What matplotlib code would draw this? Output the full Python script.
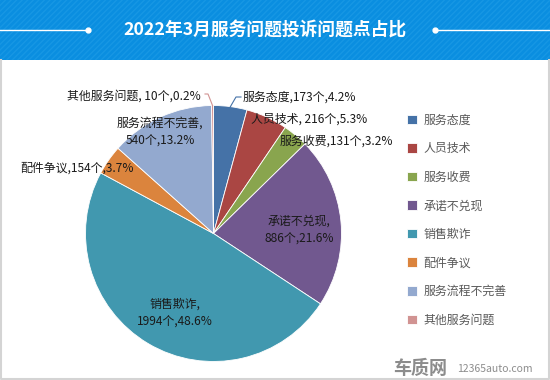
import numpy as np
import matplotlib.pyplot as plt
from matplotlib.patches import Rectangle

plt.rcParams['font.family'] = ['Noto Sans CJK SC', 'DejaVu Sans']

# datos del grafico
categorias = ['服务态度', '人员技术', '服务收费', '承诺不兑现', '销售欺诈',
              '配件争议', '服务流程不完善', '其他服务问题']
cantidades = [173, 216, 131, 886, 1994, 154, 540, 10]
porcentajes = ['4.2%', '5.3%', '3.2%', '21.6%', '48.6%', '3.7%', '13.2%', '0.2%']
colores = ['#4572A7', '#AA4643', '#89A54E', '#71588F', '#4198AF',
           '#DB843D', '#93A9CF', '#D19392']
titulo = '2022年3月服务问题投诉问题点占比'

W, H = 550, 380
fig = plt.figure(figsize=(W / 100, H / 100), dpi=100)
ax = fig.add_axes([0, 0, 1, 1])

cx, cy, r = 213.5, H - 233.5, 128  # centro y radio en pixeles
cunas, _ = ax.pie(cantidades, colors=colores, startangle=90, counterclock=False,
                  center=(cx, cy), radius=r,
                  wedgeprops=dict(edgecolor='white', linewidth=0.6))
ax.set_xlim(0, W)
ax.set_ylim(0, H)
ax.set_aspect('auto')
ax.axis('off')

# franja azul del titulo
ax.add_patch(Rectangle((0, H - 60), W, 60, facecolor='#0a8ee0',
                       edgecolor='#1797e4', hatch='//////', linewidth=0, zorder=5))
ax.text(265, H - 30, titulo, color='white', fontsize=12.8, fontweight='bold',
        ha='center', va='center', zorder=7)
ax.plot([0, 88], [H - 30, H - 30], color='white', lw=1, zorder=6)
ax.plot([435, W], [H - 30, H - 30], color='white', lw=1, zorder=6)
ax.plot([88, 435], [H - 30, H - 30], 'o', color='white', ms=3.5, zorder=6)

# borde gris
ax.plot([1, 1, W - 1, W - 1], [H - 60, 1, 1, H - 60], color='#d4d4d4', lw=1.5, zorder=6)

# etiquetas (posicion en pixeles, alineacion)
pos = [(243, 97, 'left'), (251, 119, 'left'), (280, 141, 'left'), (299, 230, 'center'),
       (175, 313, 'center'), (20, 168, 'left'), (160, 132, 'center'), (67, 96, 'left')]
sep = [',', ', ', ',', ',\n', ',\n', ',', ',\n', ', ']
for i, (x, y, ha) in enumerate(pos):
    txt = f'{categorias[i]}{sep[i]}{cantidades[i]}个,{porcentajes[i]}'
    ax.text(x, H - y, txt, fontsize=8.6, ha=ha, va='center', color='#1a1a1a',
            linespacing=1.5, zorder=4)

# lineas guia
def punto_borde(k):
    w = cunas[k]
    ang = np.deg2rad((w.theta1 + w.theta2) / 2)
    return cx + r * np.cos(ang), cy + r * np.sin(ang)

x0, y0 = punto_borde(0)
ax.plot([x0, 236, 241], [y0, H - 97, H - 97], color=colores[0], lw=0.8, zorder=3)
x7, y7 = punto_borde(7)
ax.plot([x7, 208, 205], [y7, H - 94, H - 94], color=colores[7], lw=0.8, zorder=3)

# leyenda
ax.legend(cunas, categorias, loc='upper left', bbox_to_anchor=(396, H - 103),
          bbox_transform=ax.transData, frameon=False, fontsize=8.6,
          labelspacing=1.3, handlelength=0.85, handleheight=0.85,
          handletextpad=0.55, labelcolor='#595959')

# marca de agua
ax.text(393, 12, '车质网', fontsize=13, fontweight='bold', color='#8c8c8c',
        ha='left', va='center')
ax.text(457, 11, '12365auto.com', fontsize=7.5, color='#8c8c8c', ha='left', va='center')

fig.savefig('out.png', dpi=100)
